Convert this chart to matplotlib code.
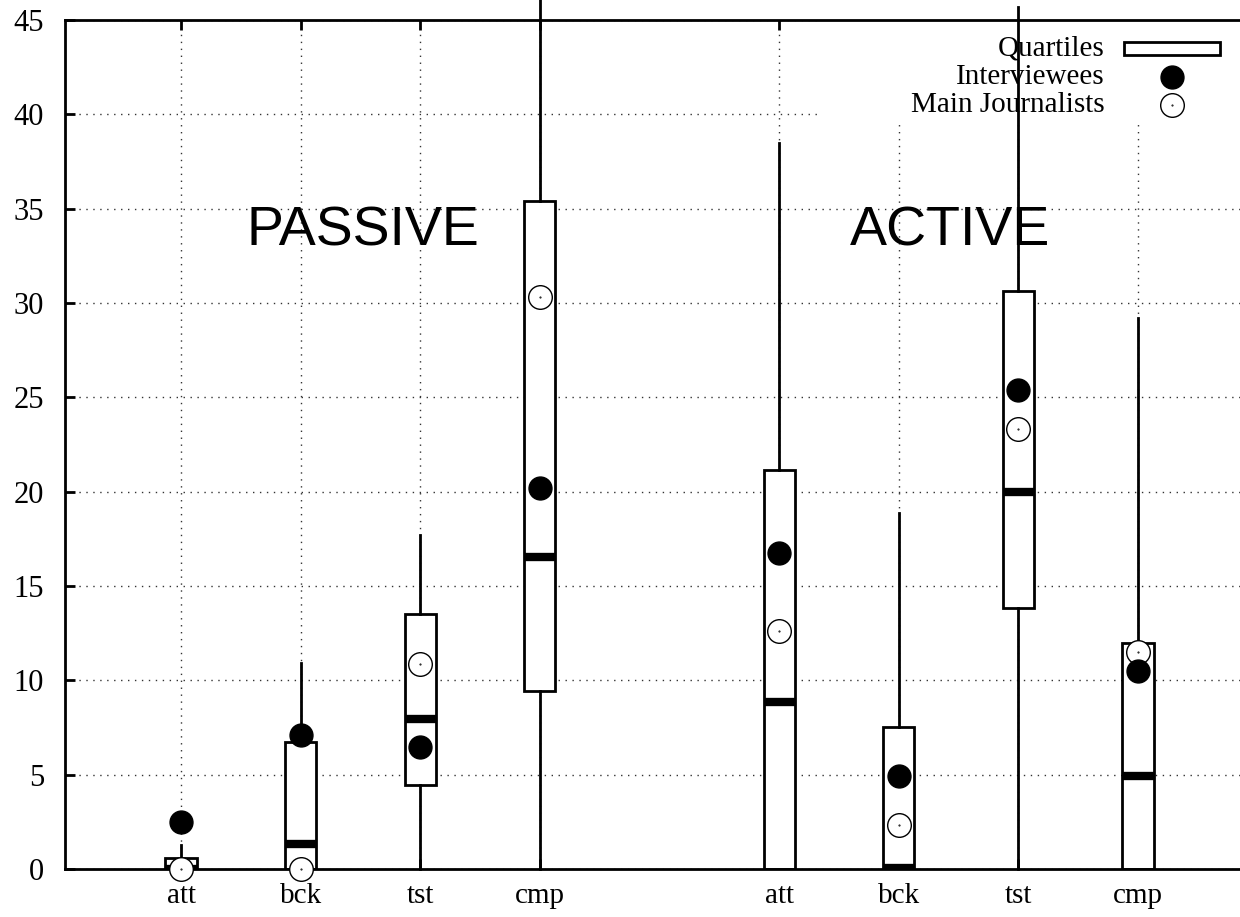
""" Passive / active box plot
"""

import matplotlib
matplotlib.use('Agg')
import matplotlib.pyplot as plt
from matplotlib.patches import Rectangle

# Data
categories = ['att', 'bck', 'tst', 'cmp', 'att', 'bck', 'tst', 'cmp']
positions = [1, 2, 3, 4, 6, 7, 8, 9]
whisker_low = [0.0, 0.0, 0.0, 0.0, 0.0, 0.0, 0.0, 0.0]
q1 = [0.0, 0.0, 4.45, 9.43, 0.0, 0.0, 13.83, 0.0]
median = [0.0, 1.31, 7.95, 16.54, 8.85, 0.05, 19.98, 4.95]
q3 = [0.57, 6.73, 13.5, 35.4, 21.15, 7.53, 30.64, 11.96]
whisker_high = [1.27, 10.9, 17.7, 46.5, 38.5, 18.87, 45.7, 29.2]
interviewees = [2.5, 7.1, 6.48, 20.19, 16.75, 4.93, 25.39, 10.49]
journalists = [0.0, 0.0, 10.85, 30.32, 12.6, 2.33, 23.32, 11.52]
groups = ['PASSIVE', 'ACTIVE']
group_x = [2.52, 7.43]
group_y = 33.8


def main():
    plt.rcParams['font.family'] = ['Liberation Serif', 'DejaVu Serif']
    fig = plt.figure(figsize=(12.4, 9.17), dpi=100)
    ax = fig.add_axes([65 / 1240, 48 / 917, 1175 / 1240, 849 / 917])

    stats = []
    for i in range(len(positions)):
        stats.append({'whislo': whisker_low[i], 'q1': q1[i], 'med': median[i],
                      'q3': q3[i], 'whishi': whisker_high[i], 'fliers': []})

    bp = ax.bxp(stats, positions=positions, widths=0.26, showcaps=False,
                showfliers=False, patch_artist=True,
                boxprops=dict(facecolor='white', edgecolor='black', linewidth=2),
                whiskerprops=dict(color='black', linewidth=2),
                medianprops=dict(color='black', linewidth=6, solid_capstyle='butt'))
    for w in bp['whiskers']:
        w.set_clip_on(False)

    ax.plot(positions, interviewees, 'o', color='black', markersize=16.5,
            zorder=5, clip_on=False)
    ax.plot(positions, journalists, 'o', markerfacecolor='white',
            markeredgecolor='black', markeredgewidth=1, markersize=17,
            zorder=4, clip_on=False)
    ax.plot(positions, journalists, '.', color='black', markersize=1,
            zorder=4, clip_on=False)

    for name, gx in zip(groups, group_x):
        ax.text(gx, group_y, name, family='Liberation Sans', fontsize=40,
                ha='center', va='center', zorder=6)

    ax.set_xlim(0.03, 9.853)
    ax.set_ylim(0, 45)
    ax.set_xticks(positions)
    ax.set_xticklabels(categories)
    ax.set_yticks(range(0, 46, 5))
    ax.tick_params(direction='in', length=7, width=2, labelsize=21,
                   top=True, right=False)
    ax.tick_params(axis='y', pad=15, labelsize=22)
    ax.tick_params(axis='x', pad=10)
    for s in ax.spines.values():
        s.set_linewidth(2)
    ax.spines['right'].set_visible(False)

    ax.set_axisbelow(True)
    ax.grid(True, linestyle=(0, (1, 4)), color='#333333', linewidth=1)

    # key, with a white background over the grid
    ax.add_patch(Rectangle((0.6426, 0.876), 0.36, 0.124, transform=ax.transAxes,
                           facecolor='white', edgecolor='none', zorder=1,
                           clip_on=False))
    labels = ['Quartiles', 'Interviewees', 'Main Journalists']
    rows = [0.966, 0.933, 0.900]
    for lab, ry in zip(labels, rows):
        ax.text(0.885, ry, lab, transform=ax.transAxes, fontsize=21,
                ha='right', va='center', zorder=6)
    ax.add_patch(Rectangle((0.901, rows[0] - 0.0077), 0.0817, 0.0153,
                           transform=ax.transAxes, facecolor='white',
                           edgecolor='black', linewidth=2, zorder=6,
                           clip_on=False))
    ax.plot([0.942], [rows[1]], 'o', color='black', markersize=16.5,
            transform=ax.transAxes, zorder=6, clip_on=False)
    ax.plot([0.942], [rows[2]], 'o', markerfacecolor='white',
            markeredgecolor='black', markeredgewidth=1, markersize=17,
            transform=ax.transAxes, zorder=6, clip_on=False)
    ax.plot([0.942], [rows[2]], '.', color='black', markersize=1,
            transform=ax.transAxes, zorder=6, clip_on=False)

    fig.savefig('out.png', dpi=100)


if __name__ == '__main__':
    main()
